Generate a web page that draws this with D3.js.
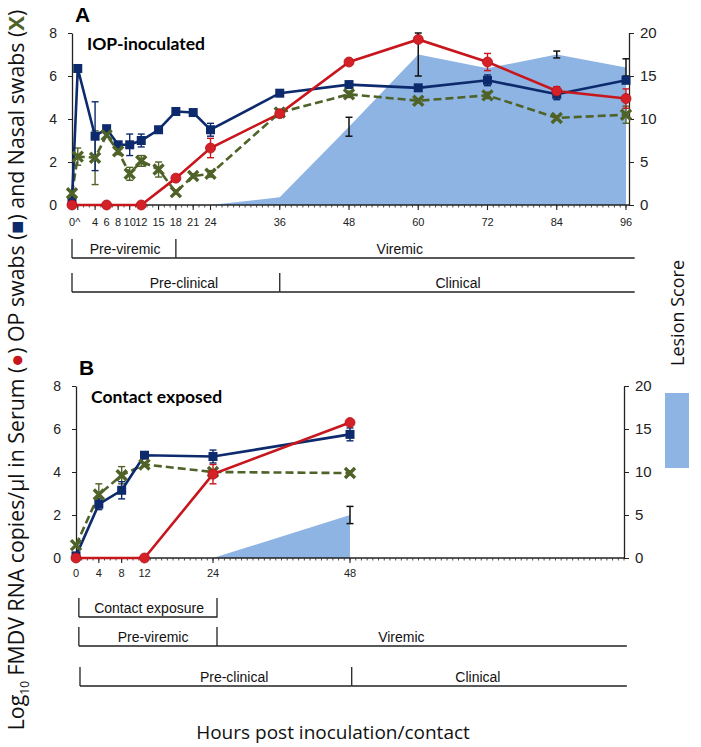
<!DOCTYPE html>
<html><head><meta charset="utf-8">
<script src="https://cdn.jsdelivr.net/npm/d3@7"></script>
<style>body{margin:0;background:#fff}</style>
</head><body><svg id="c" width="701" height="747" xmlns="http://www.w3.org/2000/svg"></svg>
<script>
// ---------- DATA ----------
// Panel A (IOP-inoculated)
const hoursA = [0,1,4,6,8,10,12,15,18,21,24,36,48,60,72,84,96];
const opA    = [0.15,6.35,3.2,3.55,2.8,2.8,3.0,3.5,4.35,4.3,3.5,5.2,5.6,5.45,5.8,5.15,5.8];
const opErrA = [0,0,1.6,0.12,0.1,0.5,0.3,0.12,0.1,0.1,0.3,0.1,0.15,0.1,0.25,0.25,0];
const nasalA    = [0.55,2.25,2.2,3.25,2.5,1.45,2.05,1.65,0.6,1.35,1.45,4.3,5.15,4.85,5.1,4.05,4.2];
const nasalErrA = [0,0.4,1.25,0.1,0.15,0.3,0.25,0.35,0.1,0.1,0.15,0.1,0.15,0.1,0.15,0.1,0.4];
const serumHoursA = [0,6,12,18,24,36,48,60,72,84,96];
const serumA    = [0,0,0,1.25,2.65,4.25,6.65,7.7,6.65,5.3,4.95];
const serumErrA = [0,0,0,0.05,0.45,0.1,0.1,0.12,0.4,0.2,0.45];
const lesionHoursA = [24,36,48,60,72,84,96];
const lesionA    = [0,0.9,9.1,17.5,15.9,17.5,16.0];
const lesionErrA = [0,0,1.1,2.5,0,0.4,1.0];
const tickValsA   = [0,1,4,6,8,10,12,15,18,21,24,36,48,60,72,84,96];
const tickLabelsA = ["0","^","4","6","8","10","12","15","18","21","24","36","48","60","72","84","96"];

// Panel B (Contact exposed)
const hoursB = [0,4,8,12,24,48];
const opB    = [0.1,2.5,3.15,4.78,4.72,5.75];
const opErrB = [0,0.25,0.4,0.1,0.3,0.3];
const nasalB    = [0.6,2.95,3.85,4.35,4.0,3.95];
const nasalErrB = [0,0.5,0.4,0.1,0.1,0.1];
const serumHoursB = [0,12,24,48];
const serumB    = [0,0,3.9,6.3];
const serumErrB = [0,0,0.45,0.1];
const lesionHoursB = [24,48];
const lesionB    = [0,5.0];
const lesionErrB = [0,1.0];
const tickValsB   = [0,4,8,12,24,48];
const tickLabelsB = ["0","4","8","12","24","48"];

const yTicks = [0,2,4,6,8];
const lesionTicks = [0,5,10,15,20];

// phase brackets: [label, startHour, endHour, labelHour]
const phasesA = [
  [["Pre-viremic",0,18,9.2],["Viremic",18,97.5,56.8]],
  [["Pre-clinical",0,36,19.4],["Clinical",36,97.5,66.9]]
];
const phasesB = [
  [["Contact exposure",0.5,24.7,12.8]],
  [["Pre-viremic",0.5,24.7,13.5],["Viremic",24.7,96.5,57]],
  [["Pre-clinical",0.7,48.3,27.7],["Clinical",48.3,96.5,70.4]]
];

// ---------- STYLE ----------
const NAVY="#0c2a6c", RED="#c8161d", GREEN="#4f6228", AREA="#8db4e2";
const svg = d3.select("#c");
const sans = "Liberation Sans, Arial, sans-serif";
const narrow = "Liberation Sans Narrow, Liberation Sans, Arial, sans-serif";

function panel(o){
  const g = svg.append("g");
  const x = d3.scaleLinear().domain([0,96]).range([o.x0,o.x1]);
  const y = d3.scaleLinear().domain([0,8]).range([o.y0,o.y0-172]);
  const yl = d3.scaleLinear().domain([0,20]).range([o.y0,o.y0-172]);

  // lesion area
  const lesionPts = o.lesionHours.map((h,i)=>({h,v:o.lesion[i],e:o.lesionErr[i]}));
  g.append("path").datum(lesionPts)
    .attr("d", d3.area().x(d=>x(d.h)).y0(yl(0)).y1(d=>yl(d.v)))
    .attr("fill",AREA);
  errBars(g, lesionPts.filter(d=>d.e>0), x, yl, "#111", 1.5);

  // axes
  const ax = g.append("g").attr("transform",`translate(0,${o.y0})`);
  ax.append("line").attr("x1",o.x0).attr("x2",o.axisEnd).attr("stroke","#222").attr("stroke-width",1.3);
  ax.selectAll("line.minor").data(d3.range(0,97,1)).join("line").attr("class","minor")
    .attr("x1",d=>x(d)).attr("x2",d=>x(d)).attr("y1",0).attr("y2",2.5).attr("stroke","#333").attr("stroke-width",0.9);
  ax.selectAll("line.major").data(o.tickVals).join("line").attr("class","major")
    .attr("x1",d=>x(d)).attr("x2",d=>x(d)).attr("y1",0).attr("y2",5).attr("stroke","#222").attr("stroke-width",1.1);
  ax.selectAll("text").data(o.tickVals).join("text")
    .attr("x",d=>x(d)).attr("y",o.tickLabelY).attr("text-anchor","middle")
    .attr("font-family",narrow).attr("font-size",o.tickFont).attr("fill","#222")
    .text((d,i)=>o.tickLabels[i]);

  const ly = g.append("g").attr("transform",`translate(${o.x0},0)`)
    .call(d3.axisLeft(y).tickValues(yTicks).tickSize(4).tickSizeOuter(0).tickPadding(11));
  ly.select(".domain").attr("stroke","#222").attr("stroke-width",1.3);
  ly.selectAll("text").attr("font-family",sans).attr("font-size",14).attr("fill","#222");
  ly.selectAll(".tick line").attr("stroke","#222");

  const ry = g.append("g").attr("transform",`translate(${o.rAxis},0)`)
    .call(d3.axisRight(yl).tickValues(lesionTicks).tickSize(5).tickSizeOuter(0).tickPadding(6));
  ry.select(".domain").attr("stroke","#222").attr("stroke-width",1.3);
  ry.selectAll("text").attr("font-family",sans).attr("font-size",15).attr("fill","#222");
  ry.selectAll(".tick line").attr("stroke","#222");

  // series
  const op = o.hours.map((h,i)=>({h,v:o.op[i],e:o.opErr[i]}));
  const na = o.hours.map((h,i)=>({h,v:o.nasal[i],e:o.nasalErr[i]}));
  const se = o.serumHours.map((h,i)=>({h,v:o.serum[i],e:o.serumErr[i]}));
  const line = d3.line().x(d=>x(d.h)).y(d=>y(d.v));

  errBars(g, na.filter(d=>d.e>0), x, y, GREEN, 1.4);
  errBars(g, op.filter(d=>d.e>0), x, y, NAVY, 1.4);
  errBars(g, se.filter(d=>d.e>0), x, y, RED, 1.4);

  g.append("path").datum(na).attr("d",line).attr("fill","none").attr("stroke",GREEN)
    .attr("stroke-width",2.6).attr("stroke-dasharray","8,4");
  g.append("path").datum(op).attr("d",line).attr("fill","none").attr("stroke",NAVY).attr("stroke-width",2.6);
  g.append("path").datum(se).attr("d",line).attr("fill","none").attr("stroke",RED).attr("stroke-width",2.6);

  g.selectAll("rect.op").data(op).join("rect").attr("class","op")
    .attr("x",d=>x(d.h)-4.5).attr("y",d=>y(d.v)-4.5).attr("width",9).attr("height",9).attr("fill",NAVY);
  const xm = g.selectAll("g.x").data(na).join("g").attr("class","x")
    .attr("transform",d=>`translate(${x(d.h)},${y(d.v)})`);
  xm.append("path").attr("d","M-5,-5L5,5M5,-5L-5,5").attr("stroke",GREEN).attr("stroke-width",3.4);
  g.selectAll("circle.se").data(se).join("circle").attr("class","se")
    .attr("cx",d=>x(d.h)).attr("cy",d=>y(d.v)).attr("r",5).attr("fill","#d42128").attr("stroke","#b5121a").attr("stroke-width",0.8);

  // titles
  g.append("text").attr("x",o.x0+3).attr("y",o.y0-183).attr("font-family",sans).attr("font-weight","bold")
    .attr("font-size",21).text(o.letter);
  g.append("text").attr("x",o.x0+15).attr("y",o.y0-155).attr("font-family","Lato, Open Sans, sans-serif").attr("font-weight","bold")
    .attr("font-size",17.5).text(o.title);

  // phase brackets
  o.phases.forEach((row,ri)=>{
    const top = o.phaseTop[ri], bot = top+19;
    row.forEach(([lab,s,e,lh],j)=>{
      const x1=x(s), x2=x(e);
      g.append("path").attr("d", (j===0?`M${x1},${top}L${x1},${bot}`:"") + `M${x1},${bot}L${x2},${bot}` + (o.closeEnd && row.length===1 ? `L${x2},${top}` : ""))
        .attr("fill","none").attr("stroke","#222").attr("stroke-width",1.3);
      if(j>0) g.append("line").attr("x1",x1).attr("x2",x1).attr("y1",top).attr("y2",bot).attr("stroke","#222").attr("stroke-width",1.3);
      g.append("text").attr("x", x(lh)).attr("y",top+15)
        .attr("text-anchor","middle").attr("font-family",sans).attr("font-size",14).attr("fill","#111").text(lab);
    });
  });
}

function errBars(g, data, x, y, color, w){
  const eg = g.append("g").attr("stroke",color).attr("stroke-width",w);
  data.forEach(d=>{
    const cx=x(d.h), t=y(d.v+d.e), b=y(Math.max(0,d.v-d.e));
    eg.append("line").attr("x1",cx).attr("x2",cx).attr("y1",t).attr("y2",b);
    eg.append("line").attr("x1",cx-3.5).attr("x2",cx+3.5).attr("y1",t).attr("y2",t);
    eg.append("line").attr("x1",cx-3.5).attr("x2",cx+3.5).attr("y1",b).attr("y2",b);
  });
}

panel({letter:"A", title:"IOP-inoculated", x0:72, x1:626, axisEnd:629, rAxis:629, y0:205,
  hours:hoursA, op:opA, opErr:opErrA, nasal:nasalA, nasalErr:nasalErrA,
  serumHours:serumHoursA, serum:serumA, serumErr:serumErrA,
  lesionHours:lesionHoursA, lesion:lesionA, lesionErr:lesionErrA,
  tickVals:tickValsA, tickLabels:tickLabelsA, tickLabelY:21, tickFont:11,
  phases:phasesA, phaseTop:[239,273]});

panel({letter:"B", title:"Contact exposed", x0:76, x1:624, axisEnd:624, rAxis:624, y0:558,
  hours:hoursB, op:opB, opErr:opErrB, nasal:nasalB, nasalErr:nasalErrB,
  serumHours:serumHoursB, serum:serumB, serumErr:serumErrB,
  lesionHours:lesionHoursB, lesion:lesionB, lesionErr:lesionErrB,
  tickVals:tickValsB, tickLabels:tickLabelsB, tickLabelY:19, tickFont:11,
  phases:phasesB, phaseTop:[598,627,667], closeEnd:true});

// Y axis title (rotated)
const yt = svg.append("text").attr("transform","translate(24,370) rotate(-90)")
  .attr("text-anchor","middle").attr("font-family","Open Sans, Noto Sans, sans-serif").attr("font-size",17).attr("fill","#111");
yt.append("tspan").text("Log");
yt.append("tspan").attr("font-size",12).attr("dy",5).text("10");
yt.append("tspan").attr("dy",-5).text(" FMDV RNA copies/µl  in Serum (");
yt.append("tspan").attr("fill",RED).text("●");
yt.append("tspan").text(") OP swabs (");
yt.append("tspan").attr("fill",NAVY).text("■");
yt.append("tspan").text(") and Nasal swabs (");
yt.append("tspan").attr("fill",GREEN).attr("font-weight","bold").attr("font-size",22).text("X");
yt.append("tspan").text(")");
const len = yt.node().getComputedTextLength();
yt.attr("font-size", 17*728/len);

// Lesion score legend
svg.append("text").attr("transform","translate(684,313) rotate(-90)").attr("text-anchor","middle")
  .attr("font-family","Open Sans, Noto Sans, sans-serif").attr("font-size",18).attr("fill","#111").text("Lesion Score");
svg.append("rect").attr("x",665).attr("y",393).attr("width",24).attr("height",75).attr("fill",AREA);

// X title
svg.append("text").attr("x",333).attr("y",739).attr("text-anchor","middle")
  .attr("font-family","Open Sans, Noto Sans, sans-serif").attr("font-size",19).attr("fill","#111")
  .text("Hours post inoculation/contact");
</script></body></html>
